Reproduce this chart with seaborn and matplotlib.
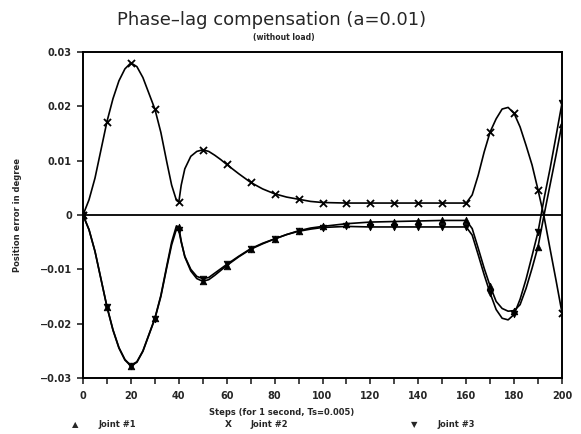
import matplotlib
matplotlib.use('Agg')
import matplotlib.pyplot as plt
from matplotlib.ticker import MultipleLocator, FuncFormatter
import seaborn as sns
import pandas as pd

# values (position error in degree)
steps = [0, 2.5, 5, 7.5, 10, 12.5, 15, 17.5, 20, 22.5, 25, 27.5, 30, 32.5, 35, 37, 39, 40,
         41, 42.5, 45, 47.5, 50, 52.5, 55, 57.5, 60, 65, 70, 75, 80, 85, 90, 95, 100,
         110, 120, 130, 140, 150, 160, 162.5, 165, 167.5, 170, 172.5, 175, 177.5, 180,
         182.5, 185, 187.5, 190, 192.5, 195, 197.5, 200]

joint1 = [0, -0.0027, -0.0067, -0.0118, -0.0169, -0.0211, -0.0244, -0.0266, -0.0277, -0.0270,
          -0.0250, -0.0220, -0.0190, -0.0148, -0.0093, -0.0050, -0.0020, -0.0022,
          -0.0048, -0.0077, -0.0103, -0.0117, -0.0122, -0.0119, -0.0111, -0.0102, -0.0093,
          -0.0077, -0.0063, -0.0053, -0.0044, -0.0036, -0.0029, -0.0024, -0.0021,
          -0.0016, -0.0013, -0.0012, -0.0011, -0.0010, -0.0010, -0.0025, -0.0061, -0.0098,
          -0.0131, -0.0159, -0.0172, -0.0177, -0.0176,
          -0.0165, -0.0135, -0.0098, -0.0058, 0.0000, 0.0055, 0.0110, 0.0168]

joint2 = [0, 0.0028, 0.0068, 0.0120, 0.0172, 0.0214, 0.0247, 0.0269, 0.0280, 0.0273,
          0.0253, 0.0224, 0.0195, 0.0152, 0.0097, 0.0055, 0.0027, 0.0024,
          0.0055, 0.0085, 0.0108, 0.0117, 0.0120, 0.0117, 0.0110, 0.0102, 0.0093,
          0.0076, 0.0060, 0.0048, 0.0039, 0.0033, 0.0029, 0.0025, 0.0023,
          0.0022, 0.0022, 0.0022, 0.0022, 0.0022, 0.0022, 0.0037, 0.0073, 0.0116,
          0.0153, 0.0177, 0.0195, 0.0198, 0.0187,
          0.0162, 0.0128, 0.0092, 0.0046, -0.0003, -0.0062, -0.0120, -0.0180]

joint3 = [0, -0.0027, -0.0067, -0.0118, -0.0169, -0.0212, -0.0245, -0.0267, -0.0278, -0.0271,
          -0.0251, -0.0221, -0.0191, -0.0150, -0.0096, -0.0055, -0.0026, -0.0028,
          -0.0050, -0.0076, -0.0100, -0.0113, -0.0117, -0.0115, -0.0107, -0.0099, -0.0091,
          -0.0076, -0.0062, -0.0052, -0.0044, -0.0036, -0.0030, -0.0026, -0.0023,
          -0.0021, -0.0022, -0.0022, -0.0022, -0.0022, -0.0022, -0.0037, -0.0073, -0.0110,
          -0.0144, -0.0174, -0.0190, -0.0193, -0.0183,
          -0.0155, -0.0118, -0.0075, -0.0031, 0.0030, 0.0085, 0.0145, 0.0206]

joint_names = ['Joint #1', 'Joint #2', 'Joint #3']
joint_markers = {'Joint #1': '^', 'Joint #2': 'x', 'Joint #3': 'v'}

df = pd.concat([
    pd.DataFrame({'step': steps, 'err': vals, 'joint': name})
    for name, vals in zip(joint_names, [joint1, joint2, joint3])
], ignore_index=True)
marks = df[df['step'] % 10 == 0]

sns.set_style('white')
plt.rcParams['font.family'] = ['DejaVu Sans']

fig = plt.figure(figsize=(5.81, 4.34), dpi=100)
ax = fig.add_axes([0.1429, 0.129, 0.8244, 0.7512])

for name in joint_names:
    sub = df[df['joint'] == name]
    sns.lineplot(data=sub, x='step', y='err', color='black', linewidth=1.2,
                 estimator=None, sort=False, ax=ax)
    m = marks[marks['joint'] == name]
    sns.scatterplot(data=m, x='step', y='err', marker=joint_markers[name], color='black',
                    s=22 if name != 'Joint #2' else 26, linewidth=1.3 if name == 'Joint #2' else 0.6,
                    edgecolor='black', ax=ax, zorder=3)

ax.axhline(0, color='black', linewidth=1.3, zorder=1)

ax.set_xlim(0, 200)
ax.set_ylim(-0.03, 0.03)
ax.xaxis.set_major_locator(MultipleLocator(20))
ax.xaxis.set_minor_locator(MultipleLocator(10))
ax.yaxis.set_major_locator(MultipleLocator(0.01))


def yfmt(v, pos):
    if abs(v) < 1e-9:
        return '0'
    s = f'{v:.2f}'
    return s.replace('-', '\u2212')


ax.yaxis.set_major_formatter(FuncFormatter(yfmt))
ax.tick_params(axis='x', which='both', direction='out', length=4, width=1.2,
               labelsize=7, pad=5, bottom=True)
ax.tick_params(axis='y', which='major', direction='out', length=4, width=1.2,
               labelsize=7, pad=4, left=True)
for lab in ax.get_xticklabels() + ax.get_yticklabels():
    lab.set_fontweight('bold')

for sp in ax.spines.values():
    sp.set_visible(True)
    sp.set_linewidth(1.4)
    sp.set_color('black')

ax.set_xlabel('')
ax.set_ylabel('')

fig.text(0.468, 0.953, 'Phase\u2013lag compensation (a=0.01)', ha='center', va='center',
         fontsize=13)
fig.text(0.488, 0.914, '(without load)', ha='center', va='center', fontsize=5.5,
         fontweight='bold')
fig.text(0.484, 0.049, 'Steps (for 1 second, Ts=0.005)', ha='center', va='center',
         fontsize=6, fontweight='bold')
fig.text(0.030, 0.505, 'Position error in degree', ha='center', va='center', rotation=90,
         fontsize=6, fontweight='bold')

# legend row under the axis label
leg_y = 0.021
fig.text(75 / 581, leg_y, '\u25b2', ha='center', va='center', fontsize=6)
fig.text(98 / 581, leg_y, joint_names[0], ha='left', va='center', fontsize=6, fontweight='bold')
fig.text(228 / 581, leg_y, 'X', ha='center', va='center', fontsize=6.5, fontweight='bold')
fig.text(250 / 581, leg_y, joint_names[1], ha='left', va='center', fontsize=6, fontweight='bold')
fig.text(414 / 581, leg_y, '\u25bc', ha='center', va='center', fontsize=6)
fig.text(437 / 581, leg_y, joint_names[2], ha='left', va='center', fontsize=6, fontweight='bold')

fig.savefig('out.png', dpi=100)
